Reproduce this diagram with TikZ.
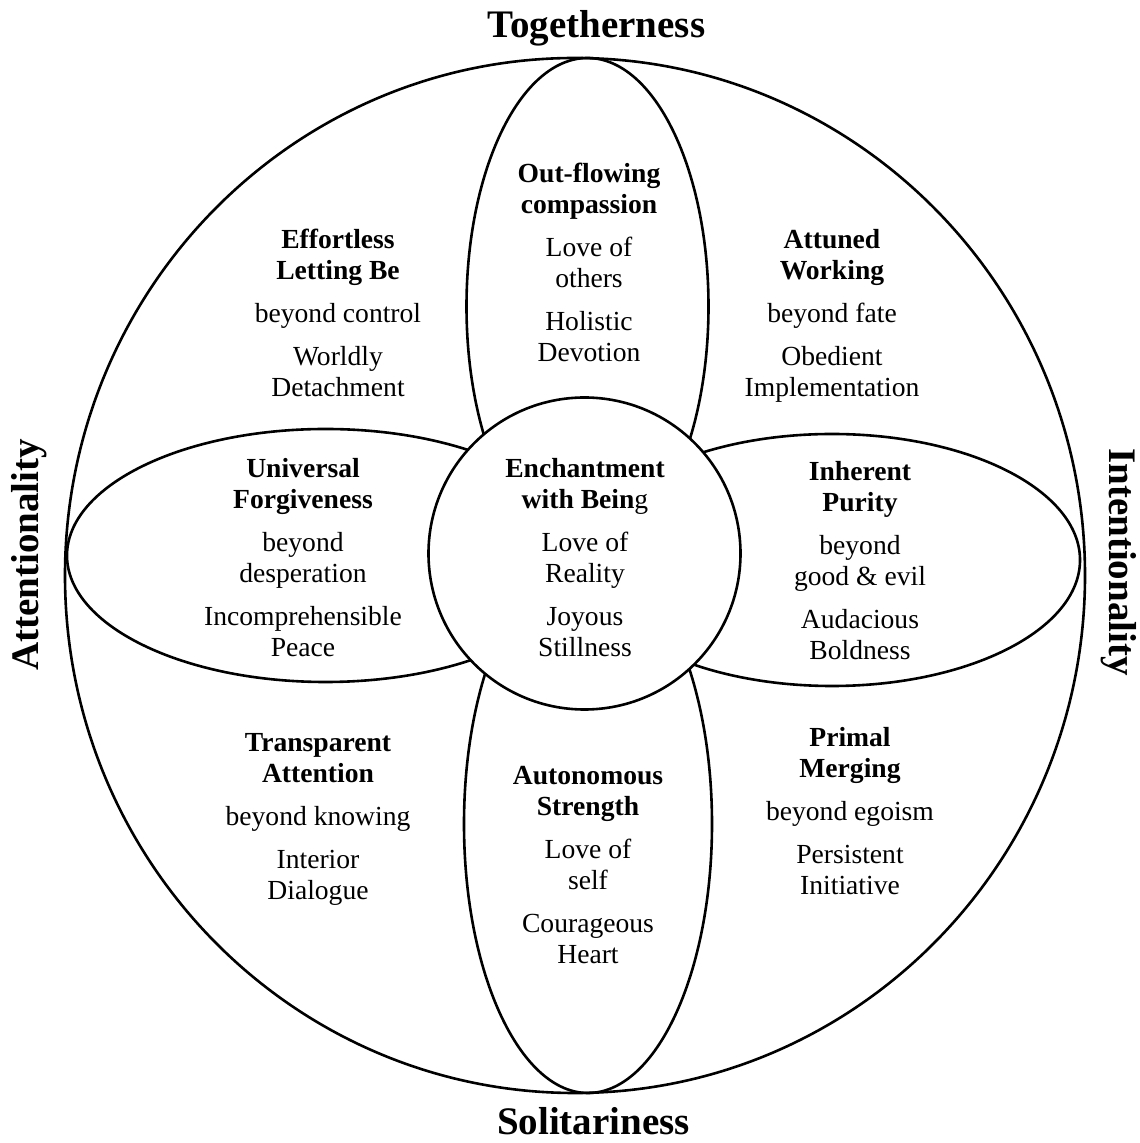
\documentclass[tikz,border=0pt]{standalone}
\usepackage{fontspec}
\setmainfont{Liberation Serif}
\begin{document}
\begin{tikzpicture}[x=0.5pt, y=0.5pt, line join=round, line cap=round]
	\tikzset{ring/.style={line width=1.3pt},
		pole/.style={font=\fontsize{19.5}{23}\selectfont\bfseries},
		petal/.style={align=center, font=\fontsize{13.8}{15.5}\selectfont}}
	\def\gap{\\[6pt]}
	\useasboundingbox (-575,-567.5) rectangle (564,575.5);
	% outer circle, four petals, core on top
	\draw[ring] (0,0) ellipse [x radius=510, y radius=517.5];
	\foreach \cx/\cy/\rx/\ry in {12.5/269/121/248.5, 13/-248.5/124/269, -249.5/20/258.5/126.5, 257/15.5/248/126}
		\draw[ring] (\cx,\cy) ellipse [x radius=\rx, y radius=\ry];
	\draw[ring, fill=white] (9.5,22) circle [radius=156];
	% the four poles
	\node[pole] (together) at (21.5,547) {Togetherness};
	\node[pole] (solitary) at (18.5,-545.5) {Solitariness};
	\node[pole, rotate=90] (attention) at (-546,20.5) {Attentionality};
	\node[pole, rotate=-90] (intention) at (543.5,13.5) {Intentionality};
	% petals and corners
	\node[petal] (outflow) at (14,313.5) {\textbf{Out-flowing}\\\textbf{compassion}\gap Love of\\others\gap Holistic\\Devotion};
	\node[petal] (letbe) at (-237,262.5) {\textbf{Effortless}\\\textbf{Letting Be}\gap beyond control\gap Worldly\\Detachment};
	\node[petal] (attuned) at (257,260) {\textbf{Attuned}\\\textbf{Working}\gap beyond fate\gap Obedient\\Implementation};
	\node[petal] (forgive) at (-272,18) {\textbf{Universal}\\\textbf{Forgiveness}\gap beyond\\desperation\gap Incomprehensible\\Peace};
	\node[petal] (enchant) at (10,18) {\textbf{Enchantment}\\\textbf{with Bein}g\gap Love of\\Reality\gap Joyous\\Stillness};
	\node[petal] (purity) at (285,15) {\textbf{Inherent}\\\textbf{Purity}\gap beyond\\good \& evil\gap Audacious\\Boldness};
	\node[petal] (transparent) at (-257,-243.5) {\textbf{Transparent}\\\textbf{Attention}\gap beyond knowing\gap Interior\\Dialogue};
	\node[petal] (autonomy) at (13,-290) {\textbf{Autonomous}\\\textbf{Strength}\gap Love of\\self\gap Courageous\\Heart};
	\node[petal] (merging) at (275,-236) {\textbf{Primal}\\\textbf{Merging}\gap beyond egoism\gap Persistent\\Initiative};
\end{tikzpicture}
\end{document}
